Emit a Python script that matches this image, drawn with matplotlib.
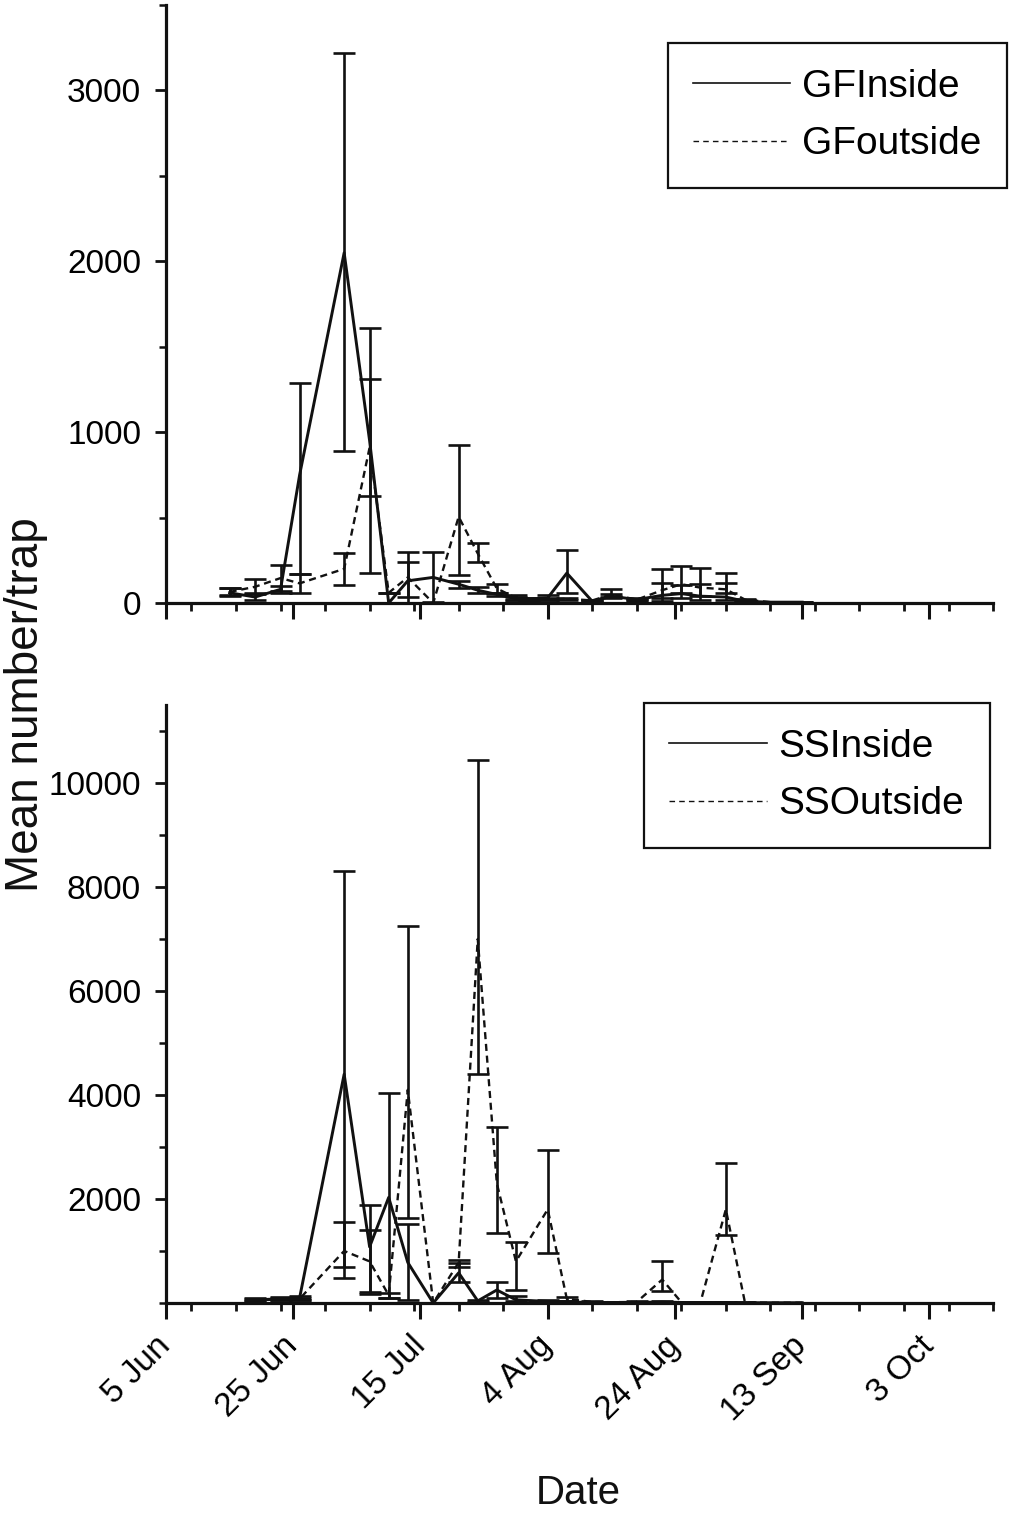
import datetime as dt
import numpy as np
import matplotlib
matplotlib.use("Agg")
import matplotlib.pyplot as plt
import matplotlib.dates as mdates
from matplotlib.ticker import MultipleLocator, FixedLocator
from matplotlib.lines import Line2D

plt.rcParams['font.family'] = ['Liberation Sans', 'DejaVu Sans']

YEAR = 2000
INK = "#111111"

# --- top panel: GF, sampling dates (month-day) ---
gf_dates = ["06-15", "06-19", "06-23", "06-26", "07-03", "07-07", "07-10", "07-13",
            "07-17", "07-21", "07-24", "07-27", "07-30", "08-01", "08-04", "08-07",
            "08-11", "08-14", "08-18", "08-22", "08-25", "08-28", "09-01", "09-04",
            "09-08", "09-13"]
gf_in = [60, 35, 80, 750, 2050, 950, 0, 130, 150, 110, 75, 50, 25, 20, 30, 175,
         10, 40, 20, 45, 55, 40, 35, 10, 5, 5]
gf_in_lo = [40, 20, 60, 170, 890, 175, 0, 35, 5, 90, 60, 40, 15, 12, 20, 58,
            5, 30, 12, 10, 30, 20, 20, 5, 3, 3]
gf_in_hi = [85, 55, 100, 1285, 3220, 1610, 0, 242, 300, 130, 95, 60, 35, 28, 45, 310,
            15, 55, 28, 120, 105, 110, 117, 15, 7, 7]
gf_out = [65, 95, 146, 115, 200, 910, 60, 150, 0, 505, 290, 85, 30, 25, 20, 25,
          15, 50, 20, 75, 110, 90, 80, 20, 5, 3]
gf_out_lo = [45, 58, 70, 58, 105, 626, 60, 0, 0, 164, 240, 58, 20, 20, 15, 20,
             10, 35, 15, 30, 60, 40, 58, 15, 3, 2]
gf_out_hi = [90, 140, 222, 170, 293, 1313, 60, 300, 0, 925, 350, 111, 45, 30, 30, 30,
             20, 80, 25, 200, 217, 203, 175, 25, 7, 4]

# --- bottom panel: SS ---
ss_dates = ["06-19", "06-23", "06-26", "07-03", "07-07", "07-10", "07-13", "07-17",
            "07-21", "07-24", "07-27", "07-30", "08-04", "08-07", "08-11", "08-14",
            "08-18", "08-22", "08-25", "08-28", "09-01", "09-04", "09-08", "09-13"]
ss_in = [60, 80, 100, 4400, 1080, 2030, 780, 0, 580, 40, 250, 60, 30, 20, 10, 10,
         10, 20, 10, 10, 10, 5, 5, 5]
ss_in_lo = [30, 50, 60, 480, 170, 100, 50, 0, 400, 20, 100, 30, 15, 10, 5, 5,
            5, 10, 5, 5, 5, 3, 3, 3]
ss_in_hi = [90, 110, 140, 8300, 1890, 4030, 1520, 0, 770, 60, 400, 130, 60, 30, 15, 15,
            15, 30, 15, 15, 15, 7, 7, 7]
ss_out = [50, 70, 80, 1000, 800, 150, 4100, 0, 780, 7000, 2300, 800, 1800, 80, 20, 15,
          20, 450, 15, 10, 1800, 10, 5, 5]
ss_out_lo = [30, 50, 60, 700, 210, 100, 1640, 0, 700, 4400, 1350, 250, 955, 40, 10, 10,
             10, 230, 10, 5, 1310, 5, 3, 3]
ss_out_hi = [70, 90, 100, 1560, 1400, 200, 7250, 0, 830, 10450, 3380, 1170, 2940, 120, 30, 20,
             30, 815, 20, 15, 2690, 15, 7, 7]

tick_dates = ["06-05", "06-25", "07-15", "08-04", "08-24", "09-13", "10-03"]
tick_labels = ["5 Jun", "25 Jun", "15 Jul", "4 Aug", "24 Aug", "13 Sep", "3 Oct"]
x_start, x_end = "06-05", "10-13"


def to_dt(md):
    return dt.datetime.strptime(f"{YEAR}-{md}", "%Y-%m-%d")


def draw(ax, dates, vals, lo, hi, dashed, label):
    d = [to_dt(s) for s in dates]
    v = np.array(vals, float)
    yerr = [v - np.array(lo, float), np.array(hi, float) - v]
    ax.errorbar(d, v, yerr=yerr, fmt='none', ecolor=INK, elinewidth=1.9,
                capsize=8, capthick=1.9, zorder=3)
    ls = (0, (3, 2)) if dashed else '-'
    ax.plot(d, v, color=INK, lw=1.7 if dashed else 2.1, linestyle=ls, label=label, zorder=4)


def legend(ax, labels, anchor):
    handles = [Line2D([], [], color=INK, lw=1.2, linestyle='-'),
               Line2D([], [], color=INK, lw=1.0, linestyle=(0, (4, 3)))]
    lg = ax.legend(handles, labels, loc='upper right', bbox_to_anchor=anchor,
                   borderaxespad=0, fontsize=28, frameon=True, fancybox=False,
                   edgecolor=INK, framealpha=1, handlelength=2.5,
                   handletextpad=0.3, labelspacing=0.55, borderpad=0.66)
    lg.get_frame().set_linewidth(1.6)


fig = plt.figure(figsize=(10.13, 15.22), dpi=100)
ax1 = fig.add_axes([0.1639, 0.6038, 0.8164, 0.3929])
ax2 = fig.add_axes([0.1639, 0.1439, 0.8164, 0.3929])

draw(ax1, gf_dates, gf_in, gf_in_lo, gf_in_hi, False, "GFInside")
draw(ax1, gf_dates, gf_out, gf_out_lo, gf_out_hi, True, "GFoutside")
draw(ax2, ss_dates, ss_in, ss_in_lo, ss_in_hi, False, "SSInside")
draw(ax2, ss_dates, ss_out, ss_out_lo, ss_out_hi, True, "SSOutside")

ax1.set_ylim(0, 3500)
ax1.yaxis.set_major_locator(MultipleLocator(1000))
ax1.yaxis.set_minor_locator(MultipleLocator(500))
ax2.set_ylim(0, 11500)
ax2.yaxis.set_major_locator(FixedLocator([2000, 4000, 6000, 8000, 10000]))
ax2.yaxis.set_minor_locator(MultipleLocator(1000))

for ax in (ax1, ax2):
    ax.set_xlim(to_dt(x_start), to_dt(x_end))
    ax.xaxis.set_major_locator(FixedLocator(mdates.date2num([to_dt(s) for s in tick_dates])))
    ax.xaxis.set_minor_locator(mdates.WeekdayLocator(byweekday=mdates.FR))
    for side in ('top', 'right'):
        ax.spines[side].set_visible(False)
    for side in ('left', 'bottom'):
        ax.spines[side].set_linewidth(2.3)
        ax.spines[side].set_color(INK)
    ax.tick_params(axis='x', which='major', length=11.5, width=2.2, color=INK)
    ax.tick_params(axis='x', which='minor', length=6, width=2.0, color=INK)
    ax.tick_params(axis='y', which='major', length=8, width=2.0, color=INK,
                   labelsize=24, pad=10)
    ax.tick_params(axis='y', which='minor', length=5, width=1.8, color=INK)

ax1.tick_params(axis='x', labelbottom=False)
ax2.set_xticklabels(tick_labels, rotation=45, ha='right', va='center',
                    rotation_mode='anchor', fontsize=24)
ax2.tick_params(axis='x', which='major', pad=16)

legend(ax1, ["GFInside", "GFoutside"], (1.017, 0.936))
legend(ax2, ["SSInside", "SSOutside"], (0.996, 1.003))

fig.text(0.026, 0.537, "Mean number/trap", rotation=90, ha='center', va='center',
         fontsize=33, color=INK)
fig.text(0.571, 0.019, "Date", ha='center', va='center', fontsize=29, color=INK)

fig.savefig("out.png", dpi=100, facecolor='white')
